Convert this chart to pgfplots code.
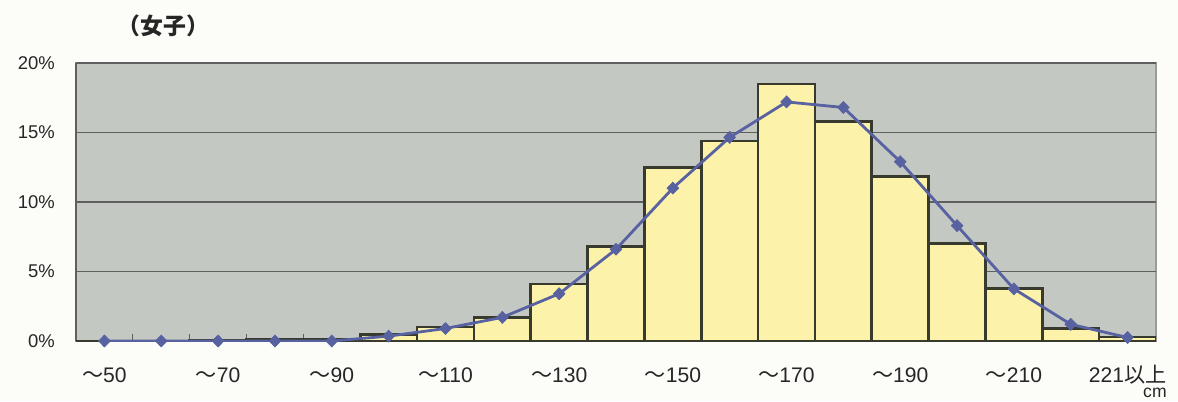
\documentclass[border=0pt]{standalone}
\usepackage{pgfplots}
\pgfplotsset{compat=1.18}
\usepackage{fontspec}
\setmainfont{Liberation Sans}
\newfontfamily\cjk{Noto Sans CJK JP}
\definecolor{bgc}{RGB}{196,200,195}
\definecolor{barc}{RGB}{253,242,170}
\definecolor{linec}{RGB}{88,98,160}
\definecolor{gridc}{RGB}{95,95,95}
\definecolor{edgec}{RGB}{55,58,45}
\definecolor{paper}{RGB}{252,252,248}
\begin{document}
\begin{tikzpicture}
\path[use as bounding box, fill=paper] (0,0) rectangle (23.56,8.02);
\node[anchor=west, font=\cjk\fontsize{13}{15}\selectfont\bfseries, inner sep=0pt, text=black!85] at (2.35,7.5) {（女子）};
\node[anchor=base east, font=\fontsize{10}{12}\selectfont, text=black!85, inner sep=0pt] at (23.34,0.07) {cm};
\begin{axis}[
  at={(1.52cm,1.2cm)}, anchor=south west,
  width=21.6cm, height=5.56cm, scale only axis,
  xmin=-0.5, xmax=18.5, ymin=0, ymax=20,
  axis x line*=bottom, axis y line*=left,
  axis line style={gridc, line width=0.9pt},
  axis background/.style={fill=bgc, draw=gray!60!bgc, line width=0.6pt},
  ytick={0,5,10,15,20},
  yticklabels={0\%,5\%,10\%,15\%,20\%},
  ymajorgrids, grid style={gridc, line width=0.6pt},
  major tick length=0pt,
  xtick={0,2,...,18},
  xticklabels={{\cjk ～}50,{\cjk ～}70,{\cjk ～}90,{\cjk ～}110,{\cjk ～}130,{\cjk ～}150,{\cjk ～}170,{\cjk ～}190,{\cjk ～}210,221{\cjk 以上}},
  minor xtick={0.5,1.5,...,17.5},
  minor tick length=0.14cm,
  tick align=inside,
  minor tick style={gridc, line width=0.6pt},
  yticklabel style={font=\fontsize{10.5}{12}\selectfont, anchor=east, xshift=-0.3cm, text=black!85},
  xticklabel style={font=\fontsize{12}{14}\selectfont, anchor=base, yshift=-0.82cm, text=black!85},
]
\addplot[ybar, bar width=1, fill=barc, draw=edgec, line width=1.5pt] coordinates {
(0,0) (1,0) (2,0.02) (3,0.15) (4,0.1) (5,0.45) (6,1.0) (7,1.7) (8,4.1) (9,6.8)
(10,12.5) (11,14.4) (12,18.5) (13,15.8) (14,11.85) (15,7.0) (16,3.8) (17,0.9) (18,0.3)};
\addplot[linec, line width=1.6pt, mark=diamond*, mark size=3.4pt, mark options={fill=linec, draw=linec, line width=0.4pt, xscale=1.3}] coordinates {
(0,0) (1,0) (2,0) (3,0) (4,0) (5,0.35) (6,0.9) (7,1.7) (8,3.4) (9,6.6)
(10,11.0) (11,14.65) (12,17.2) (13,16.8) (14,12.9) (15,8.3) (16,3.75) (17,1.2) (18,0.25)};
\end{axis}
\end{tikzpicture}
\end{document}
